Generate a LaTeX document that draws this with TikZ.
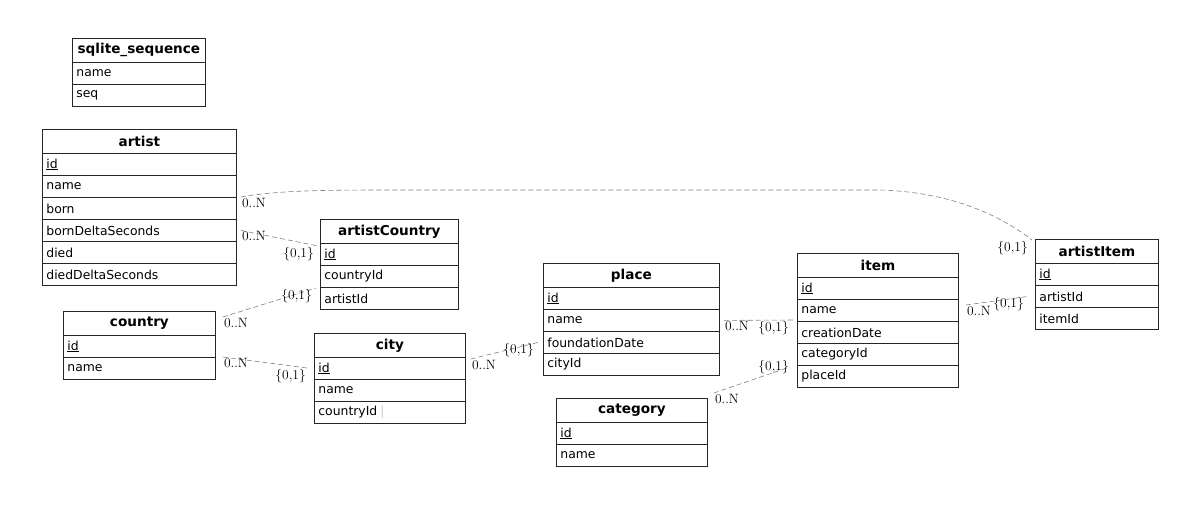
\documentclass[tikz,border=0pt]{standalone}
\usepackage{fontspec}
\newfontfamily\tabfont{DejaVu Sans}
\usetikzlibrary{calc}

\tikzset{
  tabhead/.style={draw=black!85, line width=0.8pt, anchor=north west, minimum height=24pt,
    inner xsep=4pt, inner ysep=0pt, align=center, font=\tabfont\bfseries\fontsize{13.6}{16}\selectfont},
  tabrow/.style={draw=black!85, line width=0.8pt, anchor=north west, minimum height=22pt,
    inner xsep=4pt, inner ysep=0pt, align=left, font=\tabfont\fontsize{12.4}{14}\selectfont},
  rel/.style={draw=black!50, dash pattern=on 5pt off 3pt, line width=0.6pt},
  card/.style={inner sep=1pt, font=\fontsize{13.5}{15}\selectfont}
}

% table: name, x, y, width, title, fields
\newcommand{\dbtable}[6]{%
  \pgfmathsetlengthmacro\tabw{#4pt-8pt}
  \node[tabhead, text width=\tabw] (#1) at (#2,#3) {#5};
  \foreach \fld [count=\i] in {#6}
    \node[tabrow, text width=\tabw] (#1-\i) at (#2,{#3+24+22*(\i-1)}) {\fld};
}

\begin{document}
\begin{tikzpicture}[x=1pt, y=-1pt]
  \useasboundingbox (0,0) rectangle (1200,506);

  \dbtable{sqliteSeq}{72}{38}{133}{sqlite\_sequence}{name,seq}
  \dbtable{artist}{42}{129}{194}{artist}{\underline{id},name,born,bornDeltaSeconds,died,diedDeltaSeconds}
  \dbtable{artistCountry}{320}{219}{138}{artistCountry}{\underline{id},countryId,artistId}
  \dbtable{country}{63}{311}{152}{country}{\underline{id},name}
  \dbtable{city}{314}{333}{151}{city}{\underline{id},name,countryId\hspace{3pt}{\color{black!20}|}}
  \dbtable{place}{543}{263}{176}{place}{\underline{id},name,foundationDate,cityId}
  \dbtable{category}{556}{398}{151}{category}{\underline{id},name}
  \dbtable{item}{797}{253}{161}{item}{\underline{id},name,creationDate,categoryId,placeId}
  \dbtable{artistItem}{1035}{239}{123}{artistItem}{\underline{id},artistId,itemId}

  % connector ends
  \coordinate (s1) at ([xshift=4pt]artist-3.north east);
  \coordinate (e1) at ([xshift=-3pt,yshift=-1pt]artistItem.north west);
  \coordinate (s2) at ([xshift=4pt]artist-4.east);
  \coordinate (e2) at ([xshift=-2pt,yshift=-3pt]artistCountry-1.north west);
  \coordinate (s3) at ([xshift=7pt,yshift=-6pt]country.north east);
  \coordinate (e3) at ([xshift=-4pt,yshift=-1pt]artistCountry-3.north west);
  \coordinate (s4) at ([xshift=7pt]country-2.north east);
  \coordinate (e4) at ([xshift=-4pt]city-1.west);
  \coordinate (s5) at ([xshift=5pt,yshift=-2pt]city-1.north east);
  \coordinate (e5) at ([xshift=-5pt]place-3.west);
  \coordinate (s6) at ([xshift=4pt]place-2.east);
  \coordinate (e6) at ([xshift=-4pt,yshift=1pt]item-3.north west);
  \coordinate (s7) at ([xshift=6pt,yshift=5pt]category.north east);
  \coordinate (e7) at ([xshift=-7pt,yshift=-2pt]item-5.north west);
  \coordinate (s8) at ([xshift=7pt,yshift=-6pt]item-2.north east);
  \coordinate (e8) at ([xshift=-7pt]artistItem-2.west);

  % relations
  \draw[rel] (s1) .. controls (280,190) and (330,190) .. (400,190) -- (880,190)
    .. controls (950,192) and (1000,215) .. (e1);
  \foreach \k in {2,...,8}
    \draw[rel] (s\k) -- (e\k);

  % cardinalities
  \foreach \k in {1,...,8}
    \node[card, anchor=north west] (many\k) at (s\k) {0..N};
  \foreach \k in {1,2,3,4,5,6,8}
    \node[card, anchor=north east, xshift=-3pt] (one\k) at (e\k) {\{0,1\}};
  \node[card, anchor=east] (one7) at (e7) {\{0,1\}};
\end{tikzpicture}
\end{document}
